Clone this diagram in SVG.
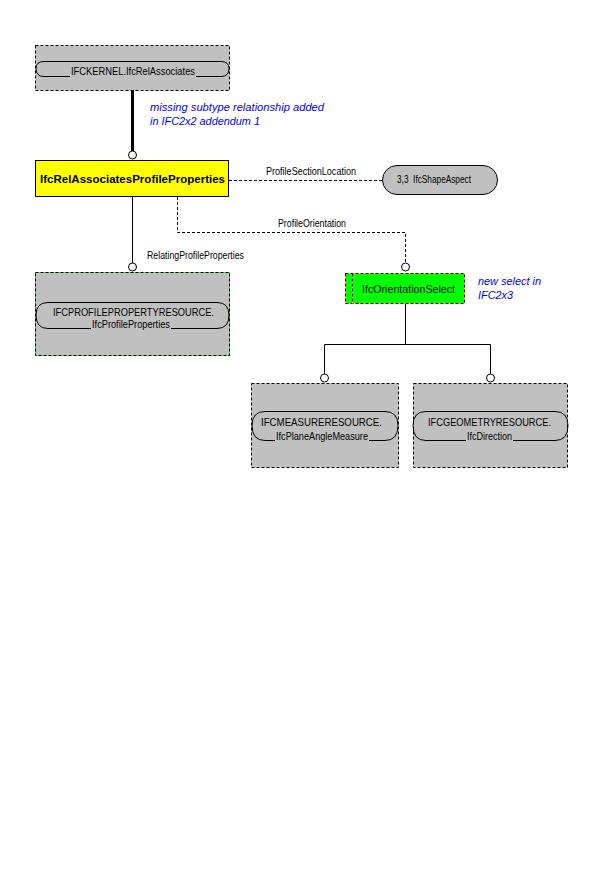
<svg xmlns="http://www.w3.org/2000/svg" width="600" height="888" viewBox="0 0 600 888">
<style>
text{font-family:"Liberation Sans",Arial,sans-serif;font-size:11px;fill:#000}
.box{fill:#c0c0c0;stroke:#000;stroke-width:1;stroke-dasharray:3,2}
.cap{fill:none;stroke:#000;stroke-width:1}
.ln{fill:none;stroke:#000;stroke-width:1}
.dl{fill:none;stroke:#000;stroke-width:1;stroke-dasharray:3,2}
.circ{fill:#fff;stroke:#000;stroke-width:1}
.note{fill:#0000ff;font-style:italic}
</style>
<rect width="600" height="888" fill="#fff"/>
<g id="connectors">
<line x1="132.5" y1="90" x2="132.5" y2="151" stroke="#000" stroke-width="3"/>
<circle class="circ" cx="132.5" cy="155" r="4"/>
<line class="dl" x1="229" y1="180.5" x2="382" y2="180.5"/>
<text x="266" y="175" textLength="90" lengthAdjust="spacingAndGlyphs">ProfileSectionLocation</text>
<line class="ln" x1="132.5" y1="197" x2="132.5" y2="263"/>
<circle class="circ" cx="132.5" cy="267" r="4"/>
<text x="147" y="259" textLength="97" lengthAdjust="spacingAndGlyphs">RelatingProfileProperties</text>
<polyline class="dl" points="177.5,197 177.5,232.5 405.5,232.5 405.5,263"/>
<circle class="circ" cx="405.5" cy="267" r="4"/>
<text x="278" y="227" textLength="68" lengthAdjust="spacingAndGlyphs">ProfileOrientation</text>
<polyline class="ln" points="405.5,304 405.5,344.5"/>
<polyline class="ln" points="324.5,374 324.5,344.5 490.5,344.5 490.5,374"/>
<circle class="circ" cx="324.5" cy="378" r="4"/>
<circle class="circ" cx="490.5" cy="378" r="4"/>
</g>
<g id="note1">
<text class="note" x="150" y="111" textLength="174" lengthAdjust="spacingAndGlyphs">missing subtype relationship added</text>
<text class="note" x="150" y="125" textLength="110" lengthAdjust="spacingAndGlyphs">in IFC2x2 addendum 1</text>
</g>
<g id="note2">
<text class="note" x="478" y="285" textLength="63" lengthAdjust="spacingAndGlyphs">new select in</text>
<text class="note" x="478" y="299" textLength="35" lengthAdjust="spacingAndGlyphs">IFC2x3</text>
</g>
<g id="IfcRelAssociates">
<rect class="box" x="35.5" y="45.5" width="194" height="45"/>
<path class="cap" d="M70,76.5 H44 Q36,76.5 36,68.5 Q36,61.5 44,61.5 H221 Q229,61.5 229,68.5 Q229,76.5 221,76.5 H196"/>
<text x="71" y="75" textLength="124" lengthAdjust="spacingAndGlyphs">IFCKERNEL.IfcRelAssociates</text>
</g>
<g id="IfcRelAssociatesProfileProperties">
<rect x="35.5" y="160.5" width="193" height="36" fill="#ffff00" stroke="#000"/>
<text x="40" y="183" font-weight="bold" textLength="185" lengthAdjust="spacingAndGlyphs">IfcRelAssociatesProfileProperties</text>
</g>
<g id="IfcShapeAspect">
<rect x="382.5" y="165.5" width="115" height="29" rx="14.5" fill="#c0c0c0" stroke="#000"/>
<text x="397" y="183" xml:space="preserve" textLength="74" lengthAdjust="spacingAndGlyphs">3,3  IfcShapeAspect</text>
</g>
<g id="IfcProfileProperties">
<rect x="35.5" y="272.5" width="194" height="83" fill="#c0c0c0" stroke="#00ff00"/>
<rect class="box" x="35.5" y="272.5" width="194" height="83" fill="none"/>
<path class="cap" d="M91,328.5 H48 Q36,328.5 36,315 Q36,302.5 48,302.5 H217 Q229,302.5 229,315 Q229,328.5 217,328.5 H171"/>
<text x="53" y="316" textLength="161" lengthAdjust="spacingAndGlyphs">IFCPROFILEPROPERTYRESOURCE.</text>
<text x="92" y="328" textLength="78" lengthAdjust="spacingAndGlyphs">IfcProfileProperties</text>
</g>
<g id="IfcOrientationSelect">
<rect x="345.5" y="273.5" width="119" height="30" fill="#00ff00" stroke="#ffff00"/>
<rect x="345.5" y="273.5" width="119" height="30" fill="none" stroke="#000" stroke-dasharray="3,2"/>
<line x1="352.5" y1="273.5" x2="352.5" y2="303.5" stroke="#ffff00"/>
<line x1="352.5" y1="273.5" x2="352.5" y2="303.5" stroke="#000" stroke-dasharray="3,2"/>
<text x="362" y="293" textLength="93" lengthAdjust="spacingAndGlyphs">IfcOrientationSelect</text>
</g>
<g id="IfcPlaneAngleMeasure">
<rect class="box" x="251.5" y="383.5" width="147" height="84"/>
<path class="cap" d="M275,440.5 H265 Q252,440.5 252,425.5 Q252,411.5 265,411.5 H385 Q398,411.5 398,425.5 Q398,440.5 385,440.5 H369"/>
<text x="261" y="426" textLength="121" lengthAdjust="spacingAndGlyphs">IFCMEASURERESOURCE.</text>
<text x="276" y="440" textLength="92" lengthAdjust="spacingAndGlyphs">IfcPlaneAngleMeasure</text>
</g>
<g id="IfcDirection">
<rect class="box" x="413.5" y="383.5" width="154" height="84"/>
<path class="cap" d="M466,440.5 H426 Q413,440.5 413,425.5 Q413,411.5 426,411.5 H555 Q568,411.5 568,425.5 Q568,440.5 555,440.5 H513"/>
<text x="428" y="426" textLength="123" lengthAdjust="spacingAndGlyphs">IFCGEOMETRYRESOURCE.</text>
<text x="467" y="440" textLength="45" lengthAdjust="spacingAndGlyphs">IfcDirection</text>
</g>
</svg>
